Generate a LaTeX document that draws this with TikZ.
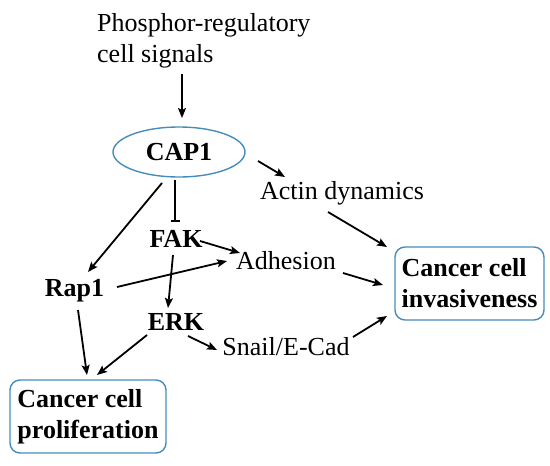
\documentclass[tikz,border=0pt]{standalone}
\usepackage{fontspec}
\setmainfont{Liberation Serif}
\usetikzlibrary{arrows.meta,calc,shapes.geometric}
\definecolor{boxblue}{RGB}{70,140,185}
\begin{document}
\begin{tikzpicture}[x=1pt,y=-1pt,
  lbl/.style={inner sep=0pt,font=\fontsize{26}{31}\selectfont,anchor=base},
  blbl/.style={lbl,font=\fontsize{26}{31}\selectfont\bfseries},
  outbox/.style={draw=boxblue,line width=1.4pt,rounded corners=10pt,inner sep=0pt,
    align=left,font=\fontsize{26}{31}\selectfont\bfseries},
  arr/.style={line width=1.8pt,-{Stealth[length=10pt,width=8pt,inset=2pt]}},
  inh/.style={line width=1.8pt,-{Bar[width=9pt,line width=1.8pt]}}]
\useasboundingbox (0,0) rectangle (550,466);
\node[inner sep=0pt,anchor=north west,align=left,font=\fontsize{26}{31}\selectfont] (sig) at (97,13)
  {Phosphor-regulatory\\cell signals};
\node[ellipse,draw=boxblue,line width=1.4pt,minimum width=132pt,minimum height=50pt,inner sep=0pt,
  font=\fontsize{26}{31}\selectfont\bfseries] (cap) at (179,152) {CAP1};
\node[lbl] (act) at (342,199) {Actin dynamics};
\node[blbl] (fak) at (176,247) {FAK};
\node[lbl] (adh) at (286,269) {Adhesion};
\node[blbl] (rap) at (74.5,296) {Rap1};
\node[blbl] (erk) at (176,330) {ERK};
\node[lbl] (snail) at (286,355) {Snail/E-Cad};
\node[outbox,minimum width=149pt,minimum height=73pt] (inv) at (469.5,283.5) {Cancer cell\\invasiveness};
\node[outbox,minimum width=156pt,minimum height=73pt] (pro) at (88,416.5) {Cancer cell\\proliferation};

\draw[arr] ($(sig.north west)+(85,61)$) -- ($(cap)+(3,-34)$);
\draw[arr] ($(cap)+(79,9)$) -- ($(act.base)+(-57,-22)$);
\draw[arr] ($(act.base)+(-14,13)$) -- ($(inv)+(-82.5,-36.5)$);
\draw[arr] ($(adh.base)+(57,4)$) -- ($(inv)+(-86.5,1.5)$);
\draw[arr] ($(snail.base)+(67,-18)$) -- ($(inv)+(-82.5,32.5)$);
\draw[arr] ($(fak.base)+(24,-6)$) -- ($(adh.base)+(-46,-16)$);
\draw[arr] ($(rap.base)+(42.5,-9)$) -- ($(adh.base)+(-59,-8)$);
\draw[inh] ($(cap)+(-4,28)$) -- ($(fak.base)+(-1,-25)$);
\draw[arr] ($(fak.base)+(-3,8)$) -- ($(erk.base)+(-8,-22)$);
\draw[arr] ($(cap)+(-17,31)$) -- ($(rap.base)+(13.5,-24)$);
\draw[arr] ($(rap.base)+(3.5,14)$) -- ($(pro)+(-1,-41.5)$);
\draw[arr] ($(erk.base)+(-29,5)$) -- ($(pro)+(9,-41.5)$);
\draw[arr] ($(erk.base)+(12,6)$) -- ($(snail.base)+(-69,-5)$);
\end{tikzpicture}
\end{document}
